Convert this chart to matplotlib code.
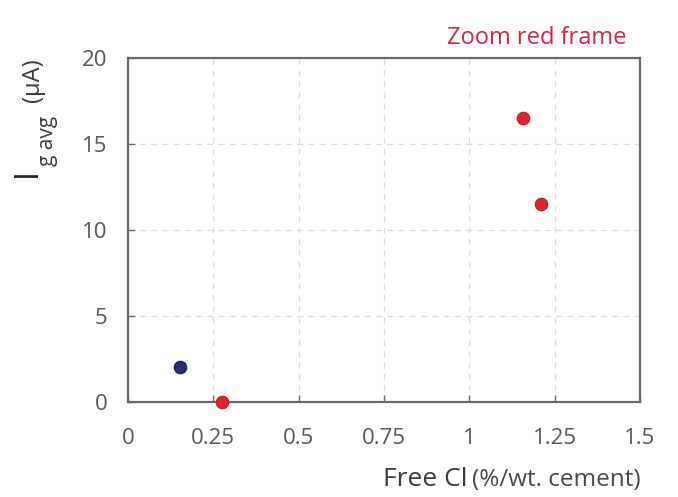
import matplotlib.pyplot as plt

# Free chloride content (%/wt. cement) vs. average galvanic current (µA)
blue_x = [0.152]
blue_y = [2.05]
red_x = [0.276, 1.158, 1.21]
red_y = [0.0, 16.5, 11.5]

x_ticks = [0, 0.25, 0.5, 0.75, 1, 1.25, 1.5]
x_tick_labels = ["0", "0.25", "0.5", "0.75", "1", "1.25", "1.5"]
y_ticks = [0, 5, 10, 15, 20]

plt.rcParams['font.family'] = ['Open Sans', 'DejaVu Sans']

W, H = 678, 497
fig = plt.figure(figsize=(W / 100, H / 100), dpi=100)
ax = fig.add_axes([128 / W, 1 - 402 / H, (640 - 128) / W, (402 - 58) / H])

ax.plot(blue_x, blue_y, 'o', color='#2b2a7c', ms=9, mec='#1c1b5a', mew=0.8,
        zorder=3, clip_on=False)
ax.plot(red_x, red_y, 'o', color='#e3222c', ms=9, mec='#c81820', mew=0.8,
        zorder=3, clip_on=False)

ax.set_xlim(0, 1.5)
ax.set_ylim(0, 20)
ax.set_xticks(x_ticks)
ax.set_xticklabels(x_tick_labels)
ax.set_yticks(y_ticks)

ax.grid(True, color='#dcdcdc', linestyle=(0, (5, 4)), linewidth=0.9)
ax.set_axisbelow(True)
for s in ax.spines.values():
    s.set_color('#6a6a6a')
    s.set_linewidth(1.6)

ax.tick_params(axis='both', direction='in', length=5, width=1.0, color='#6a6a6a',
               labelsize=16, labelcolor='#595959')
ax.tick_params(axis='x', pad=19)
ax.tick_params(axis='y', pad=15)


def px(x, y):
    """Figure fraction from pixel position measured from the top-left."""
    return x / W, 1 - y / H


# x-axis title: larger "Free Cl" followed by a smaller unit part
renderer = fig.canvas.get_renderer()
t1 = fig.text(*px(383, 486), "Free Cl", ha='left', va='baseline',
              fontsize=19, color='#3c3c3c')
bb = t1.get_window_extent(renderer)
fig.text((bb.x1 + 5) / W, 1 - 486 / H, "(%/wt. cement)", ha='left',
         va='baseline', fontsize=17.5, color='#4a4a4a')

# y-axis title: I with subscript "g avg", then (µA)
fig.text(*px(27, 177), "I", rotation=90, ha='center', va='bottom',
         fontsize=23, color='#222222')
fig.text(*px(48, 166), "g avg", rotation=90, ha='center', va='bottom',
         fontsize=15, color='#3c3c3c')
fig.text(*px(33, 58), "(µA)", rotation=90, ha='center', va='top',
         fontsize=17, color='#3c3c3c')

fig.text(*px(537, 38), "Zoom red frame", ha='center', va='center',
         fontsize=17, color='#d8263f')

fig.savefig("out.png", dpi=100)
